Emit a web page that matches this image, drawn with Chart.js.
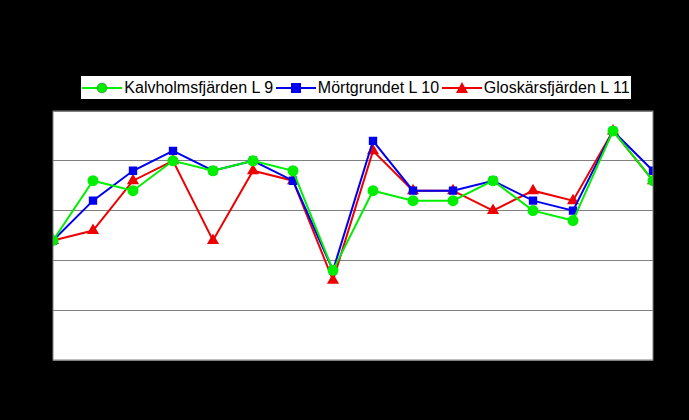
<!DOCTYPE html>
<html>
<head>
<meta charset="utf-8">
<script src="https://cdn.jsdelivr.net/npm/chart.js@4/dist/chart.umd.min.js"></script>
<style>
  body { margin: 0; background: #000; }
  #wrap { position: relative; width: 689px; height: 420px; }
  #legend {
    position: absolute; left: 80px; top: 75px; width: 550px; height: 23px;
    background: #fff; border: 1px solid #000; display: flex; align-items: center;
    justify-content: space-around; font: 16px Arial, "Liberation Sans", sans-serif; color: #000;
  }
  #legend span { display: flex; align-items: center; gap: 2px; }
</style>
</head>
<body>
<div id="wrap">
  <canvas id="c" width="689" height="420"></canvas>
  <div id="legend"></div>
</div>
<script>
const POSITIONS = [0, 1, 2, 3, 4, 5, 6, 7, 8, 9, 10, 11, 12, 13, 14, 15];
const KALVHOLM = [24, 36, 34, 40, 38, 40, 38, 18, 34, 32, 32, 36, 30, 28, 46, 36];
const MORTGRUND = [24, 32, 38, 42, 38, 40, 36, 18, 44, 34, 34, 36, 32, 30, 46, 38];
const GLOSKAR = [24, 26, 36, 40, 24, 38, 36, 16, 42, 34, 34, 30, 34, 32, 46, 36];
const Y_TICKS = [0, 10, 20, 30, 40, 50];

const SERIES = [
  { label: "Kalvholmsfjärden L 9", data: KALVHOLM, color: "#00ee00", point: "circle" },
  { label: "Mörtgrundet L 10", data: MORTGRUND, color: "#0000ee", point: "rect" },
  { label: "Gloskärsfjärden L 11", data: GLOSKAR, color: "#ee0000", point: "triangle" },
];

const marker = {
  circle: (c) => `<circle cx="20" cy="8" r="5" fill="${c}" stroke="#555" stroke-width="0.5"/>`,
  rect: (c) => `<rect x="15" y="3" width="10" height="10" fill="${c}"/>`,
  triangle: (c) => `<polygon points="20,2 26,13 14,13" fill="${c}"/>`,
};
document.getElementById("legend").innerHTML = SERIES.map((s) =>
  `<span><svg width="40" height="16"><line x1="0" y1="8" x2="40" y2="8" stroke="${s.color}" stroke-width="2"/>${marker[s.point](s.color)}</svg>${s.label}</span>`
).join("");

const frame = {
  id: "frame",
  beforeDraw(chart) {
    const { ctx, chartArea: a } = chart;
    ctx.save();
    ctx.fillStyle = "#fff";
    ctx.fillRect(a.left, a.top, a.right - a.left, a.bottom - a.top);
    ctx.restore();
  },
  afterDraw(chart) {
    const { ctx, chartArea: a } = chart;
    ctx.save();
    ctx.strokeStyle = "#808080";
    ctx.lineWidth = 1;
    ctx.strokeRect(a.left, a.top, a.right - a.left, a.bottom - a.top);
    ctx.restore();
  },
};

new Chart(document.getElementById("c"), {
  type: "line",
  data: {
    datasets: SERIES.map((s) => ({
      label: s.label,
      data: s.data.map((v, i) => ({ x: POSITIONS[i], y: v })),
      borderColor: s.color,
      backgroundColor: s.color,
      pointStyle: s.point,
      pointRadius: s.point === "triangle" ? 5 : 4.5,
      borderWidth: 2,
      tension: 0,
    })),
  },
  options: {
    responsive: false,
    animation: false,
    layout: { padding: { left: 53, right: 36, top: 111, bottom: 52 } },
    plugins: { legend: { display: false }, tooltip: { enabled: false } },
    scales: {
      x: {
        type: "linear", min: 0, max: 15,
        ticks: { display: false, stepSize: 1 },
        grid: { display: false },
        border: { display: false },
      },
      y: {
        min: Y_TICKS[0], max: Y_TICKS[Y_TICKS.length - 1],
        ticks: { display: false, stepSize: 10 },
        grid: { color: "#808080", lineWidth: 1, drawTicks: false },
        border: { display: false },
      },
    },
  },
  plugins: [frame],
});
</script>
</body>
</html>
